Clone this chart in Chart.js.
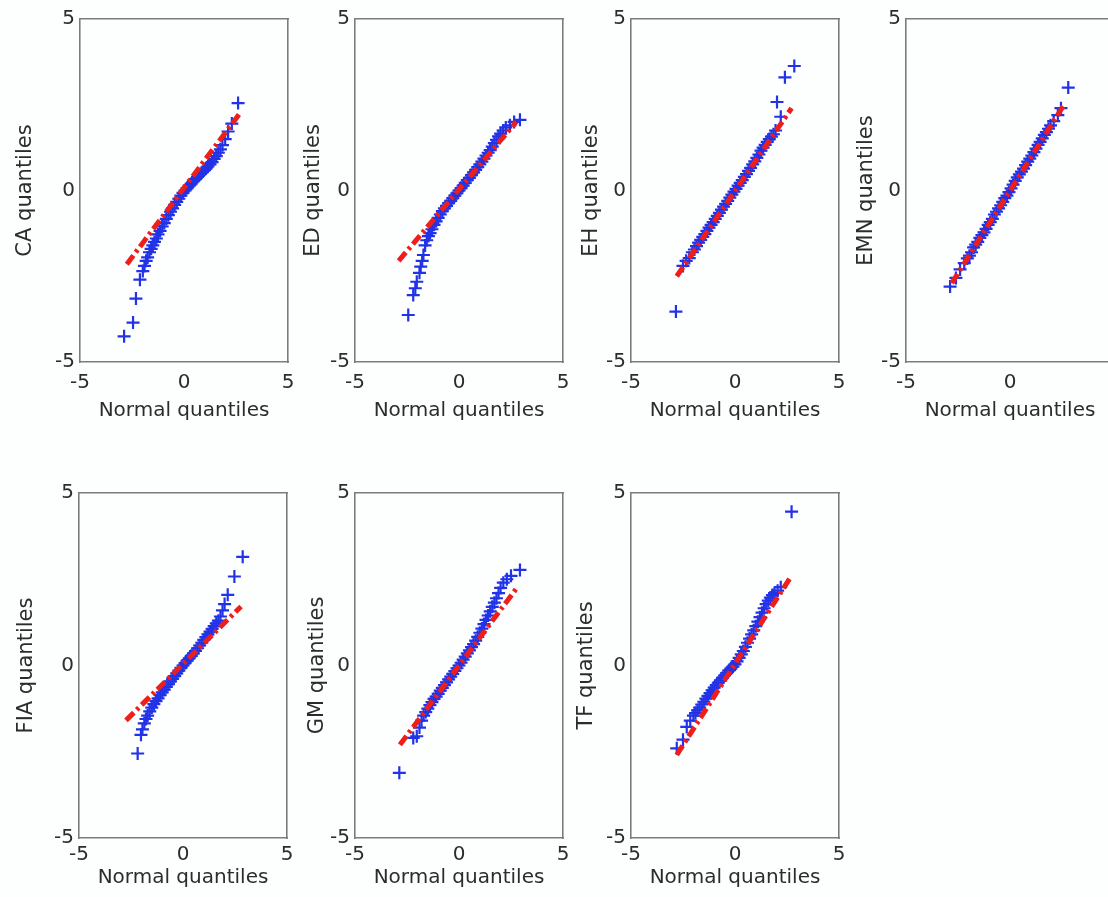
<!DOCTYPE html>
<html>
<head>
<meta charset="utf-8">
<title>Normal probability plots</title>
<script src="https://cdn.jsdelivr.net/npm/chart.js@4.4.1/dist/chart.umd.min.js"></script>
<style>
  html, body { margin: 0; padding: 0; width: 1108px; height: 897px; overflow: hidden; background: #fdfefe; }
  .panel { position: absolute; }
</style>
</head>
<body>
<script>
// sample quantiles against normal quantiles, one set per variable
const caX = [-2.88, -2.45, -2.31, -2.12, -1.98, -1.9, -1.82, -1.75, -1.66, -1.58, -1.5, -1.42, -1.33, -1.25, -1.15, -1.05, -0.95, -0.85, -0.75, -0.65, -0.55, -0.45, -0.35, -0.25, -0.15, -0.05, 0.05, 0.15, 0.25, 0.35, 0.45, 0.55, 0.65, 0.75, 0.85, 0.95, 1.05, 1.15, 1.25, 1.35, 1.45, 1.55, 1.65, 1.75, 1.85, 1.98, 2.12, 2.3, 2.6];
const caY = [-4.25, -3.85, -3.15, -2.6, -2.35, -2.2, -2.05, -1.95, -1.8, -1.7, -1.6, -1.5, -1.4, -1.28, -1.18, -1.05, -0.95, -0.83, -0.72, -0.62, -0.52, -0.42, -0.33, -0.24, -0.15, -0.07, 0, 0.07, 0.14, 0.2, 0.27, 0.33, 0.4, 0.46, 0.52, 0.58, 0.64, 0.7, 0.76, 0.83, 0.92, 1.0, 1.1, 1.2, 1.32, 1.5, 1.72, 1.95, 2.55];
const caFit = [[-2.75, -2.15], [2.75, 2.3]];

const edX = [-2.44, -2.2, -2.1, -2.03, -1.9, -1.84, -1.77, -1.71, -1.63, -1.55, -1.47, -1.39, -1.3, -1.2, -1.1, -1.0, -0.9, -0.8, -0.7, -0.6, -0.5, -0.4, -0.3, -0.2, -0.1, 0, 0.1, 0.2, 0.3, 0.4, 0.5, 0.6, 0.7, 0.8, 0.9, 1.0, 1.1, 1.2, 1.3, 1.4, 1.5, 1.6, 1.7, 1.8, 1.9, 2.0, 2.12, 2.25, 2.45, 2.65, 2.93];
const edY = [-3.63, -3.05, -2.85, -2.66, -2.4, -2.22, -2.05, -1.88, -1.6, -1.45, -1.33, -1.24, -1.13, -1.0, -0.9, -0.8, -0.7, -0.6, -0.52, -0.45, -0.37, -0.3, -0.22, -0.15, -0.08, 0, 0.07, 0.14, 0.22, 0.3, 0.37, 0.45, 0.53, 0.6, 0.68, 0.76, 0.84, 0.93, 1.02, 1.1, 1.18, 1.28, 1.38, 1.48, 1.58, 1.66, 1.75, 1.84, 1.9, 2.0, 2.06];
const edFit = [[-2.9, -2.05], [2.75, 2.0]];

const ehX = [-2.84, -2.5, -2.35, -2.2, -2.05, -1.95, -1.85, -1.75, -1.65, -1.55, -1.45, -1.35, -1.25, -1.15, -1.05, -0.95, -0.85, -0.75, -0.65, -0.55, -0.45, -0.35, -0.25, -0.15, -0.05, 0.05, 0.15, 0.25, 0.35, 0.45, 0.55, 0.65, 0.75, 0.85, 0.95, 1.05, 1.15, 1.25, 1.35, 1.45, 1.55, 1.65, 1.75, 1.85, 1.95, 2.02, 2.2, 2.4, 2.85];
const ehY = [-3.53, -2.2, -2.05, -1.97, -1.8, -1.72, -1.62, -1.52, -1.44, -1.35, -1.27, -1.18, -1.08, -1.0, -0.92, -0.83, -0.74, -0.65, -0.56, -0.47, -0.39, -0.3, -0.21, -0.12, -0.03, 0.05, 0.14, 0.22, 0.3, 0.4, 0.48, 0.57, 0.66, 0.76, 0.85, 0.95, 1.05, 1.16, 1.25, 1.33, 1.42, 1.5, 1.57, 1.64, 1.75, 2.58, 2.15, 3.3, 3.63];
const ehFit = [[-2.8, -2.5], [2.72, 2.4]];

const emnX = [-2.88, -2.6, -2.4, -2.2, -2.05, -1.95, -1.85, -1.75, -1.65, -1.55, -1.45, -1.35, -1.25, -1.15, -1.05, -0.95, -0.85, -0.75, -0.65, -0.55, -0.45, -0.35, -0.25, -0.15, -0.05, 0.05, 0.15, 0.25, 0.35, 0.45, 0.55, 0.65, 0.75, 0.85, 0.95, 1.05, 1.15, 1.25, 1.35, 1.45, 1.55, 1.65, 1.75, 1.85, 1.95, 2.1, 2.3, 2.45, 2.8];
const emnY = [-2.8, -2.55, -2.3, -2.12, -1.98, -1.9, -1.8, -1.66, -1.58, -1.5, -1.38, -1.3, -1.22, -1.12, -1.0, -0.92, -0.83, -0.7, -0.62, -0.52, -0.43, -0.33, -0.22, -0.15, -0.05, 0.06, 0.17, 0.28, 0.38, 0.47, 0.55, 0.64, 0.74, 0.84, 0.93, 1.02, 1.12, 1.22, 1.33, 1.42, 1.52, 1.62, 1.7, 1.8, 1.9, 2.02, 2.2, 2.4, 3.0];
const emnFit = [[-2.8, -2.7], [2.64, 2.54]];

const fiaX = [-2.18, -2.02, -1.95, -1.86, -1.78, -1.7, -1.6, -1.5, -1.4, -1.3, -1.2, -1.1, -1.0, -0.9, -0.8, -0.7, -0.6, -0.5, -0.4, -0.3, -0.2, -0.1, 0, 0.1, 0.2, 0.3, 0.4, 0.5, 0.6, 0.7, 0.8, 0.9, 1.0, 1.1, 1.2, 1.3, 1.4, 1.5, 1.6, 1.7, 1.8, 1.9, 2.0, 2.15, 2.47, 2.87];
const fiaY = [-2.55, -2.01, -1.85, -1.68, -1.55, -1.45, -1.33, -1.22, -1.12, -1.03, -0.95, -0.86, -0.78, -0.7, -0.62, -0.54, -0.46, -0.39, -0.31, -0.23, -0.15, -0.07, 0, 0.07, 0.14, 0.21, 0.28, 0.35, 0.42, 0.5, 0.58, 0.66, 0.74, 0.82, 0.9, 0.98, 1.06, 1.14, 1.22, 1.3, 1.42, 1.6, 1.78, 2.05, 2.58, 3.15];
const fiaFit = [[-2.74, -1.59], [2.79, 1.71]];

const gmX = [-2.87, -2.2, -2.03, -1.9, -1.8, -1.7, -1.6, -1.5, -1.4, -1.3, -1.2, -1.1, -1.0, -0.9, -0.8, -0.7, -0.6, -0.5, -0.4, -0.3, -0.2, -0.1, 0, 0.1, 0.2, 0.3, 0.4, 0.5, 0.6, 0.7, 0.8, 0.9, 1.0, 1.1, 1.2, 1.3, 1.4, 1.5, 1.6, 1.7, 1.8, 1.9, 2.0, 2.13, 2.3, 2.5, 2.93];
const gmY = [-3.11, -2.1, -2.05, -1.8, -1.6, -1.45, -1.35, -1.25, -1.15, -1.06, -0.97, -0.9, -0.82, -0.73, -0.65, -0.57, -0.49, -0.4, -0.32, -0.24, -0.16, -0.08, 0, 0.08, 0.17, 0.26, 0.35, 0.44, 0.53, 0.62, 0.72, 0.83, 0.95, 1.07, 1.2, 1.32, 1.45, 1.57, 1.7, 1.82, 1.95, 2.1, 2.25, 2.4, 2.5, 2.6, 2.77];
const gmFit = [[-2.84, -2.3], [2.77, 2.24]];

const tfX = [-2.8, -2.5, -2.32, -2.15, -2.0, -1.9, -1.8, -1.7, -1.6, -1.5, -1.4, -1.3, -1.2, -1.1, -1.0, -0.9, -0.8, -0.7, -0.6, -0.5, -0.4, -0.3, -0.2, -0.1, 0, 0.1, 0.2, 0.3, 0.4, 0.5, 0.6, 0.7, 0.8, 0.9, 1.0, 1.1, 1.2, 1.3, 1.4, 1.5, 1.6, 1.7, 1.8, 1.9, 2.05, 2.2, 2.72];
const tfY = [-2.4, -2.15, -1.78, -1.6, -1.45, -1.38, -1.3, -1.22, -1.13, -1.05, -0.96, -0.88, -0.8, -0.72, -0.64, -0.57, -0.5, -0.43, -0.36, -0.29, -0.22, -0.15, -0.09, -0.03, 0.03, 0.12, 0.22, 0.32, 0.42, 0.54, 0.66, 0.78, 0.9, 1.02, 1.14, 1.27, 1.4, 1.53, 1.66, 1.78, 1.88, 1.97, 2.04, 2.1, 2.17, 2.27, 4.46];
const tfFit = [[-2.8, -2.59], [2.64, 2.53]];

const axisTicks = [-5, 0, 5];

// box positions on the page (left/top of the plot area) and distance of the y title from the axis
const panels = [
  { label: 'CA',  x: caX,  y: caY,  fit: caFit,  left: 80,  top: 19,  row: 0, titleGap: 54 },
  { label: 'ED',  x: edX,  y: edY,  fit: edFit,  left: 355, top: 19,  row: 0, titleGap: 41 },
  { label: 'EH',  x: ehX,  y: ehY,  fit: ehFit,  left: 631, top: 19,  row: 0, titleGap: 39 },
  { label: 'EMN', x: emnX, y: emnY, fit: emnFit, left: 906, top: 19,  row: 0, titleGap: 39 },
  { label: 'FIA', x: fiaX, y: fiaY, fit: fiaFit, left: 79,  top: 493, row: 1, titleGap: 52 },
  { label: 'GM',  x: gmX,  y: gmY,  fit: gmFit,  left: 355, top: 493, row: 1, titleGap: 37 },
  { label: 'TF',  x: tfX,  y: tfY,  fit: tfFit,  left: 631, top: 493, row: 1, titleGap: 44 }
];

const rows = [
  { plotH: 343, tickPad: 9, axisH: 61 },
  { plotH: 345, tickPad: 5, axisH: 52 }
];

const PLOT_W = 208;
const Y_AXIS_W = 76;
const PAD_TOP = 20;
const PAD_RIGHT = 16;

const FONT = "'DejaVu Sans', sans-serif";
const TEXT = '#2c2c2c';
const BOX = '#7c7c7c';
const BLUE = 'rgb(34, 50, 230)';
const RED = 'rgb(238, 30, 26)';

function boxScale(position) {
  // top/right edges of the box, no labels
  return {
    type: 'linear', position: position, min: -5, max: 5,
    ticks: { display: false },
    grid: { display: false, drawTicks: false },
    border: { display: true, color: BOX, width: 1.6 },
    afterFit(s) {
      if (position === 'top') s.height = 0; else s.width = 0;
    }
  };
}

panels.forEach((p) => {
  const row = rows[p.row];
  const w = Y_AXIS_W + PLOT_W + PAD_RIGHT;
  const h = PAD_TOP + row.plotH + row.axisH;

  const holder = document.createElement('div');
  holder.className = 'panel';
  holder.style.left = (p.left - Y_AXIS_W) + 'px';
  holder.style.top = (p.top - PAD_TOP) + 'px';
  const canvas = document.createElement('canvas');
  canvas.width = w;
  canvas.height = h;
  holder.appendChild(canvas);
  document.body.appendChild(holder);

  const points = p.x.map((v, i) => ({ x: v, y: p.y[i] }));
  const fitLine = p.fit.map((pt) => ({ x: pt[0], y: pt[1] }));
  const yTitleSize = 21;
  const yTitlePad = Y_AXIS_W - p.titleGap - yTitleSize * 1.2 / 2;

  new Chart(canvas, {
    type: 'scatter',
    data: {
      datasets: [
        {
          label: 'fit',
          data: fitLine,
          showLine: true,
          borderColor: RED,
          borderWidth: 5,
          borderDash: [11, 4, 3, 4],
          pointRadius: 0
        },
        {
          label: p.label,
          data: points,
          pointStyle: 'cross',
          pointRadius: 6.5,
          borderWidth: 2.2,
          borderColor: BLUE,
          backgroundColor: BLUE
        }
      ]
    },
    options: {
      responsive: false,
      animation: false,
      events: [],
      layout: { padding: { top: PAD_TOP, right: PAD_RIGHT, left: 0, bottom: 0 } },
      plugins: { legend: { display: false }, tooltip: { enabled: false } },
      scales: {
        x: {
          type: 'linear', min: -5, max: 5,
          afterBuildTicks(s) { s.ticks = axisTicks.map((v) => ({ value: v })); },
          ticks: { padding: row.tickPad, color: TEXT, font: { family: FONT, size: 20 } },
          grid: { display: false, drawTicks: false },
          border: { display: true, color: BOX, width: 1.6 },
          title: { display: true, text: 'Normal quantiles', color: TEXT, padding: 0, font: { family: FONT, size: 20, lineHeight: 1.2 } },
          afterFit(s) { s.height = row.axisH; }
        },
        y: {
          type: 'linear', min: -5, max: 5,
          afterBuildTicks(s) { s.ticks = axisTicks.map((v) => ({ value: v })); },
          ticks: { padding: 5, color: TEXT, font: { family: FONT, size: 20 } },
          grid: { display: false, drawTicks: false },
          border: { display: true, color: BOX, width: 1.6 },
          title: { display: true, text: p.label + ' quantiles', color: TEXT, padding: { top: yTitlePad, bottom: 0 }, font: { family: FONT, size: yTitleSize, lineHeight: 1.2 } },
          afterFit(s) { s.width = Y_AXIS_W; }
        },
        x2: boxScale('top'),
        y2: boxScale('right')
      }
    }
  });
});
</script>
</body>
</html>
